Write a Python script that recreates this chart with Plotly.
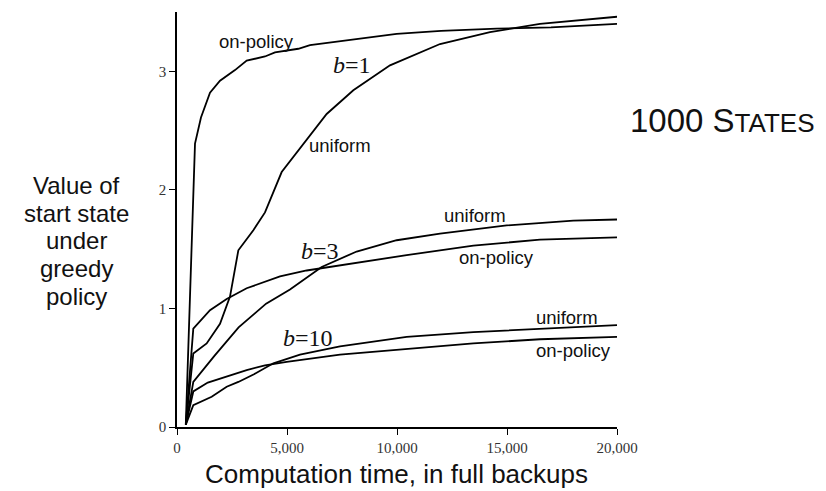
import plotly.graph_objects as go

# Computation time (full backups) and value of start state, per branching factor
b1_onpolicy_x = [400, 818, 1090, 1500, 1955, 2636, 3168, 4000, 4454, 5515, 6045, 8000, 9985, 12000, 14530, 17000, 20000]
b1_onpolicy_y = [0.02, 2.39, 2.61, 2.82, 2.92, 3.01, 3.09, 3.125, 3.16, 3.19, 3.22, 3.27, 3.315, 3.34, 3.36, 3.37, 3.40]

b1_uniform_x = [400, 741, 1348, 1955, 2409, 2788, 3470, 4000, 4758, 5894, 6803, 8015, 9682, 11955, 14227, 16500, 20000]
b1_uniform_y = [0.02, 0.62, 0.705, 0.87, 1.10, 1.49, 1.66, 1.81, 2.15, 2.42, 2.64, 2.84, 3.05, 3.23, 3.33, 3.40, 3.46]

b3_onpolicy_x = [400, 741, 1500, 2258, 3167, 4682, 5894, 7409, 10440, 13470, 16500, 20000]
b3_onpolicy_y = [0.02, 0.83, 0.985, 1.08, 1.17, 1.27, 1.32, 1.365, 1.45, 1.53, 1.58, 1.60]

b3_uniform_x = [400, 741, 1700, 2800, 4050, 5136, 6576, 8167, 9985, 11955, 14985, 18015, 20000]
b3_uniform_y = [0.02, 0.38, 0.60, 0.84, 1.04, 1.16, 1.35, 1.48, 1.575, 1.63, 1.70, 1.74, 1.75]

b10_onpolicy_x = [400, 741, 1400, 2636, 3167, 4000, 4985, 7409, 10440, 13470, 16500, 20000]
b10_onpolicy_y = [0.02, 0.30, 0.375, 0.45, 0.48, 0.52, 0.55, 0.61, 0.66, 0.705, 0.74, 0.76]

b10_uniform_x = [400, 741, 1576, 2258, 2788, 3500, 4380, 5590, 7409, 10440, 13470, 16500, 20000]
b10_uniform_y = [0.02, 0.185, 0.255, 0.34, 0.38, 0.445, 0.537, 0.61, 0.68, 0.76, 0.80, 0.83, 0.86]

x_tick_vals = [0, 5000, 10000, 15000, 20000]
x_tick_text = ["0", "5,000", "10,000", "15,000", "20,000"]
y_tick_vals = [0, 1, 2, 3]

series = [
    (b1_onpolicy_x, b1_onpolicy_y),
    (b1_uniform_x, b1_uniform_y),
    (b3_onpolicy_x, b3_onpolicy_y),
    (b3_uniform_x, b3_uniform_y),
    (b10_onpolicy_x, b10_onpolicy_y),
    (b10_uniform_x, b10_uniform_y),
]

fig = go.Figure()
for xs, ys in series:
    fig.add_trace(go.Scatter(x=xs, y=ys, mode="lines",
                             line=dict(color="black", width=1.8),
                             showlegend=False, hoverinfo="skip"))

SANS = "Liberation Sans, Arial, sans-serif"
SERIF = "Liberation Serif, Times New Roman, serif"

# Curve labels (sans) and branching-factor labels (italic serif)
curve_labels = [
    ("on-policy", 3623, 3.25),
    ("uniform", 7409, 2.37),
    ("uniform", 13545, 1.78),
    ("on-policy", 14530, 1.43),
    ("uniform", 17712, 0.925),
    ("on-policy", 18000, 0.645),
]
b_labels = [
    ("<i>b</i>=1", 7941, 3.05),
    ("<i>b</i>=3", 6500, 1.485),
    ("<i>b</i>=10", 5932, 0.747),
]

annotations = []
for text, x, y in curve_labels:
    annotations.append(dict(text=text, x=x, y=y, xref="x", yref="y",
                            showarrow=False, xanchor="center", yanchor="middle",
                            font=dict(family=SANS, size=18.5, color="#111")))
for text, x, y in b_labels:
    annotations.append(dict(text=text, x=x, y=y, xref="x", yref="y",
                            showarrow=False, xanchor="center", yanchor="middle",
                            font=dict(family=SERIF, size=24, color="#111")))

# Heading at the right
annotations.append(dict(text="1000 S<span style='font-size:26px'>TATES</span>",
                        x=1.24, y=0.738, xref="paper", yref="paper",
                        showarrow=False, xanchor="center", yanchor="middle",
                        font=dict(family=SANS, size=33, color="#111")))

L, R, T, B = 177, 209, 11.5, 64
W, H = 826, 491
pw, ph = W - L - R, H - T - B

# Y-axis title, one line per annotation for tight spacing (pixel centres)
y_title_lines = ["Value of", "start state", "under", "greedy", "policy"]
for i, line in enumerate(y_title_lines):
    annotations.append(dict(text=line,
                            x=(76 - L) / pw, y=(H - B - (185 + i * 27.8)) / ph,
                            xref="paper", yref="paper",
                            showarrow=False, xanchor="center", yanchor="middle",
                            font=dict(family=SANS, size=24, color="#111")))

# X-axis title
annotations.append(dict(text="Computation time, in full backups",
                        x=(396 - L) / pw, y=(H - B - 474) / ph,
                        xref="paper", yref="paper",
                        showarrow=False, xanchor="center", yanchor="middle",
                        font=dict(family=SANS, size=26, color="#111")))

fig.update_layout(
    width=W, height=H,
    margin=dict(l=L, r=R, t=T, b=B),
    paper_bgcolor="white", plot_bgcolor="white",
    annotations=annotations,
    xaxis=dict(range=[0, 20000], showgrid=False, zeroline=False,
               showline=True, linecolor="black", linewidth=1.5,
               ticks="outside", ticklen=6, tickwidth=1.2, tickcolor="black",
               tickvals=x_tick_vals, ticktext=x_tick_text,
               tickfont=dict(family=SERIF, size=15, color="#333")),
    yaxis=dict(range=[0, 3.5], showgrid=False, zeroline=False,
               showline=True, linecolor="black", linewidth=1.5,
               ticks="outside", ticklen=6, tickwidth=1.2, tickcolor="black",
               tickvals=y_tick_vals,
               tickfont=dict(family=SERIF, size=15, color="#333")),
)

fig.write_html("out.html")
